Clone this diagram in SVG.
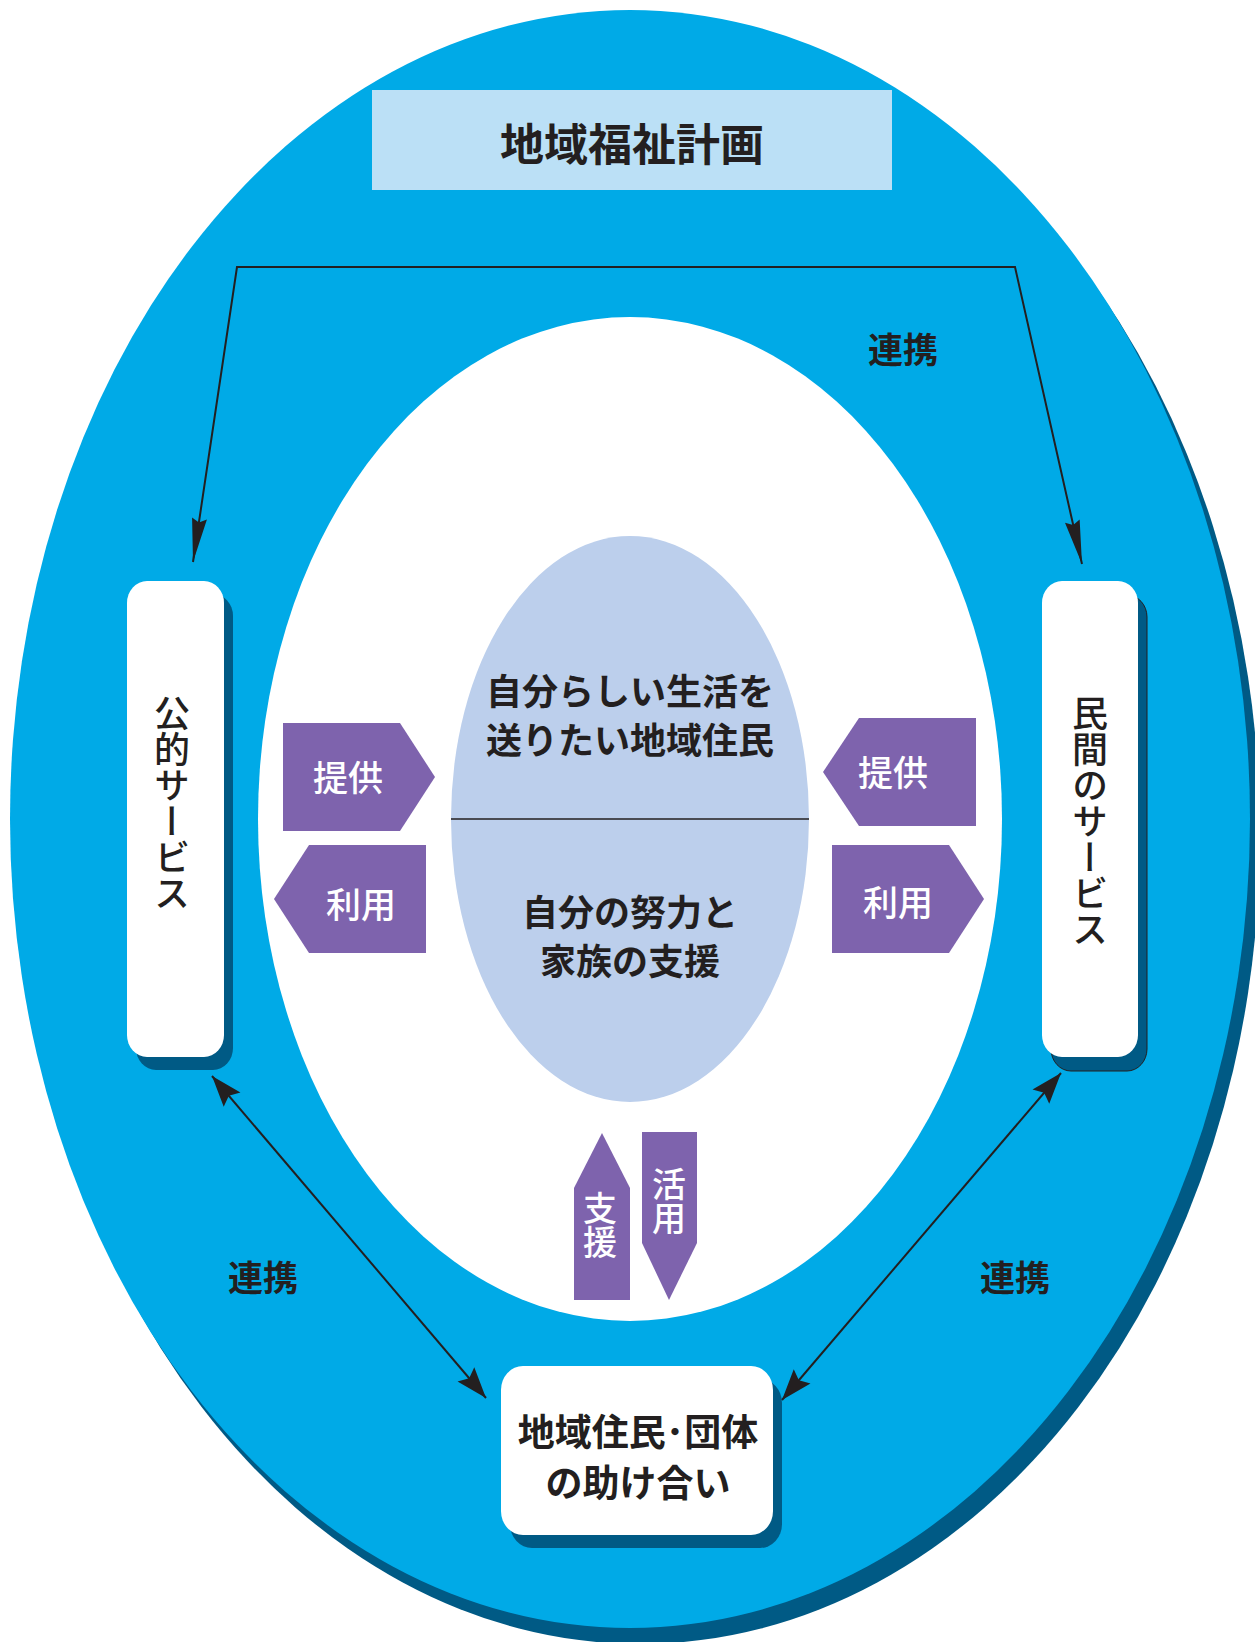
<svg xmlns="http://www.w3.org/2000/svg" width="1255" height="1642" viewBox="0 0 1255 1642">
  <style>
    text { font-family: "Noto Sans CJK JP", "Noto Sans CJK SC", sans-serif; dominant-baseline: central; text-anchor: middle; fill: #231f20; }
    .bold { font-weight: 700; }
    .med { font-weight: 500; }
    .white { fill: #ffffff; }
    .vert { writing-mode: vertical-rl; }
    .vstart { text-anchor: start; }
    .box { fill: #ffffff; }
    .shadow { fill: #005a85; }
    .purple { fill: #7e63ad; }
    .conn { fill: none; stroke: #231f20; stroke-width: 2; }
  </style>
  <defs>
    <marker id="headLong" markerUnits="userSpaceOnUse" markerWidth="50" markerHeight="20" viewBox="-46 -10 50 20" refX="0" refY="0" orient="auto-start-reverse">
      <path d="M0,0 L-44,-7.5 L-40,0 L-44,7.5 Z" fill="#231f20"/>
    </marker>
    <marker id="headShort" markerUnits="userSpaceOnUse" markerWidth="36" markerHeight="26" viewBox="-33 -13 36 26" refX="0" refY="0" orient="auto-start-reverse">
      <path d="M0,0 L-31,-11 L-26,0 L-31,11 Z" fill="#231f20"/>
    </marker>
  </defs>

  <g id="background">
    <ellipse cx="640" cy="835" rx="620" ry="809" fill="#005a85"/>
    <ellipse cx="630" cy="819" rx="620" ry="809" fill="#00aae7"/>
    <ellipse cx="630" cy="819" rx="372" ry="502" fill="#ffffff"/>
  </g>

  <g id="title">
    <rect x="372" y="90" width="520" height="100" fill="#bbe0f6"/>
    <text class="bold" x="632" y="142" font-size="44">地域福祉計画</text>
  </g>

  <g id="center">
    <ellipse cx="630" cy="819" rx="179" ry="283" fill="#bccfec"/>
    <line x1="451" y1="819" x2="809" y2="819" stroke="#231f20" stroke-width="1.6"/>
    <text class="bold" x="630" y="689" font-size="36">自分らしい生活を</text>
    <text class="bold" x="630" y="738" font-size="36">送りたい地域住民</text>
    <text class="bold" x="630" y="910" font-size="36">自分の努力と</text>
    <text class="bold" x="630" y="959" font-size="36">家族の支援</text>
  </g>

  <g id="public-service">
    <rect class="shadow" x="136" y="594" width="97" height="476" rx="20" ry="22"/>
    <rect class="box" x="127" y="581" width="97" height="476" rx="20" ry="22"/>
    <text class="med vert vstart" x="172" y="695" font-size="36">公的サービス</text>
  </g>

  <g id="private-service">
    <rect class="shadow" x="1051" y="595" width="96" height="476" rx="20" ry="22" stroke="#231f20" stroke-width="1"/>
    <rect class="box" x="1042" y="581" width="96" height="476" rx="20" ry="22"/>
    <text class="med vert vstart" x="1090" y="695" font-size="36">民間のサービス</text>
  </g>

  <g id="mutual-aid">
    <rect class="shadow" x="510" y="1379" width="272" height="169" rx="22" ry="24"/>
    <rect class="box" x="501" y="1366" width="272" height="169" rx="22" ry="24"/>
    <text class="bold" x="638" y="1430" font-size="37">地域住民･団体</text>
    <text class="bold" x="638" y="1481" font-size="37">の助け合い</text>
  </g>

  <g id="arrow-provide-left">
    <polygon class="purple" points="283,723 400,723 435,777 400,831 283,831"/>
    <text class="med white" x="348" y="775" font-size="35">提供</text>
  </g>
  <g id="arrow-use-left">
    <polygon class="purple" points="274,899 309,845 426,845 426,953 309,953"/>
    <text class="med white" x="361" y="902" font-size="35">利用</text>
  </g>
  <g id="arrow-provide-right">
    <polygon class="purple" points="823,772 859,718 976,718 976,826 859,826"/>
    <text class="med white" x="893" y="770" font-size="35">提供</text>
  </g>
  <g id="arrow-use-right">
    <polygon class="purple" points="832,845 949,845 984,899 949,953 832,953"/>
    <text class="med white" x="898" y="900" font-size="35">利用</text>
  </g>
  <g id="arrow-support">
    <polygon class="purple" points="574,1300 574,1188 602,1133 630,1188 630,1300"/>
    <text class="med white vert" x="600" y="1225" font-size="34">支援</text>
  </g>
  <g id="arrow-utilize">
    <polygon class="purple" points="642,1132 697,1132 697,1243 669,1300 642,1243"/>
    <text class="med white vert" x="669" y="1201" font-size="34">活用</text>
  </g>

  <g id="labels">
    <text class="bold" x="903" y="347" font-size="35">連携</text>
    <text class="bold" x="263" y="1275" font-size="35">連携</text>
    <text class="bold" x="1015" y="1275" font-size="35">連携</text>
  </g>

  <g id="connectors">
    <path class="conn" d="M193,562 L237,267 L1015,267 L1082,564" marker-start="url(#headLong)" marker-end="url(#headLong)"/>
    <path class="conn" d="M212,1076 L486,1398" marker-start="url(#headShort)" marker-end="url(#headShort)"/>
    <path class="conn" d="M1061,1073 L782,1400" marker-start="url(#headShort)" marker-end="url(#headShort)"/>
  </g>
</svg>
